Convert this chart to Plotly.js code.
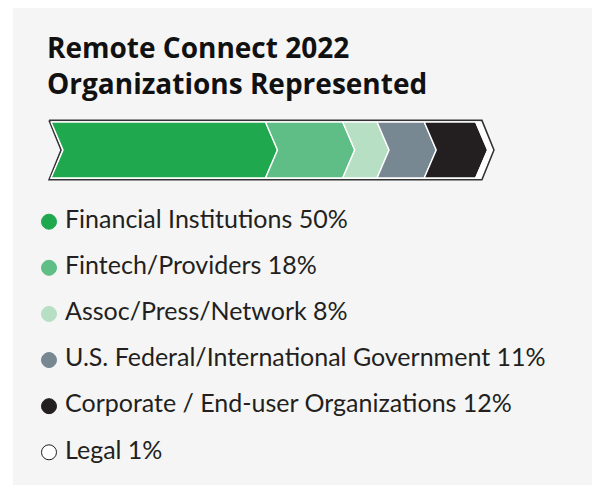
<!DOCTYPE html>
<html>
<head>
<meta charset="utf-8">
<script src="https://cdn.plot.ly/plotly-3.0.1.min.js"></script>
<style>
  html, body { margin: 0; padding: 0; background: #ffffff; }
  #chart { width: 592px; height: 485px; }
</style>
</head>
<body>
<div id="chart"></div>
<script>
// Remote Connect 2022 — organizations represented (chevron bar + dot legend)

const categories = [
  'Financial Institutions',
  'Fintech/Providers',
  'Assoc/Press/Network',
  'U.S. Federal/International Government',
  'Corporate / End-user Organizations',
  'Legal'
];
const shares = [50, 18, 8, 11, 12, 1];
const colors = ['#20a84f', '#5fbe86', '#b6dfc4', '#788892', '#231f20', '#ffffff'];

const FONT = 'Lato, "Open Sans", sans-serif';
const INK = '#231f20';
const DEPTH = 2.8;    // chevron point depth, in % units
const PAD_X = 0.45;   // gap between outline and segments, % units
const PAD_Y = 0.03;

// ── Chevron segments ─────────────────────────────────────────────────────
const traces = [];

// outer outline
const total = shares.reduce((a, b) => a + b, 0);
traces.push({
  type: 'scatter', mode: 'lines', fill: 'toself',
  x: [-PAD_X, total + PAD_X, total + PAD_X + DEPTH, total + PAD_X, -PAD_X, DEPTH - PAD_X, -PAD_X],
  y: [1 + PAD_Y, 1 + PAD_Y, 0.5, -PAD_Y, -PAD_Y, 0.5, 1 + PAD_Y],
  fillcolor: '#ffffff',
  line: { color: '#333333', width: 1.6 },
  hoverinfo: 'skip', showlegend: false, xaxis: 'x', yaxis: 'y'
});

let start = 0;
shares.forEach((v, i) => {
  const a = start, b = start + v;
  start = b;
  traces.push({
    type: 'scatter', mode: 'lines', fill: 'toself',
    x: [a, b, b + DEPTH, b, a, a + DEPTH, a],
    y: [1, 1, 0.5, 0, 0, 0.5, 1],
    fillcolor: colors[i],
    line: { color: '#ffffff', width: 1.4 },
    name: categories[i],
    hovertemplate: categories[i] + ' ' + v + '%<extra></extra>',
    showlegend: false, xaxis: 'x', yaxis: 'y'
  });
});

// ── Dot legend ───────────────────────────────────────────────────────────
const rows = categories.map((_, i) => i);
traces.push({
  type: 'scatter', mode: 'markers',
  x: rows.map(() => 49), y: rows,
  marker: {
    size: 15, color: colors,
    line: { color: colors.map(c => c === '#ffffff' ? INK : c), width: 1 }
  },
  hoverinfo: 'skip', showlegend: false, xaxis: 'x2', yaxis: 'y2'
});
traces.push({
  type: 'scatter', mode: 'text',
  x: rows.map(() => 65), y: rows,
  text: categories.map((c, i) => c + ' ' + shares[i] + '%'),
  textposition: 'middle right',
  textfont: { family: FONT, size: 25, color: INK },
  hoverinfo: 'skip', showlegend: false, xaxis: 'x2', yaxis: 'y2'
});

const hidden = { visible: false, fixedrange: true, showgrid: false, zeroline: false };

const layout = {
  width: 592, height: 485,
  margin: { l: 0, r: 0, t: 0, b: 0 },
  paper_bgcolor: '#ffffff',
  plot_bgcolor: 'rgba(0,0,0,0)',
  font: { family: FONT, color: INK },
  title: {
    text: '<b>Remote Connect 2022<br>Organizations Represented</b>',
    x: 47 / 592, xref: 'paper', xanchor: 'left',
    y: 1 - 58 / 485, yref: 'container', yanchor: 'top',
    font: { family: '"Open Sans", Lato, sans-serif', size: 28, color: '#111111' }
  },
  xaxis:  Object.assign({ range: [-11.888, 126.107] }, hidden),
  yaxis:  Object.assign({ range: [-5.482, 3.179] }, hidden),
  xaxis2: Object.assign({ range: [0, 592], anchor: 'y2' }, hidden),
  yaxis2: Object.assign({ range: [5.709, -4.807], anchor: 'x2' }, hidden),
  shapes: [{
    type: 'rect', xref: 'paper', yref: 'paper', layer: 'below',
    x0: 13 / 592, x1: 1, y0: 0, y1: 1 - 8 / 485,
    fillcolor: '#f5f5f5', line: { width: 0 }
  }],
  showlegend: false
};

Plotly.newPlot('chart', traces, layout, { displayModeBar: false, staticPlot: true });
</script>
</body>
</html>
